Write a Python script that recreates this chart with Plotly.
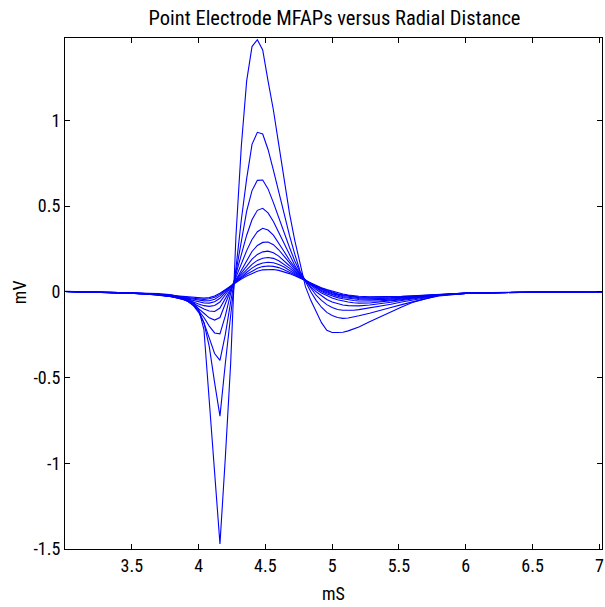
import plotly.graph_objects as go

# time samples (ms)
t_ms = [3.00, 3.20, 3.40, 3.60, 3.70, 3.80, 3.88, 3.92, 3.96, 4.00, 4.04, 4.08, 4.12, 4.16, 4.20,
        4.24, 4.28, 4.32, 4.36, 4.40, 4.44, 4.48, 4.52, 4.56, 4.60, 4.64, 4.68, 4.72, 4.76, 4.80,
        4.84, 4.88, 4.92, 4.96, 5.00, 5.04, 5.08, 5.12, 5.16, 5.20, 5.28, 5.36, 5.44, 5.52, 5.60,
        5.70, 5.80, 5.90, 6.00, 6.20, 6.40, 6.60, 6.80, 7.02]

# MFAP (mV) for increasing radial distance
mfap_r01 = [0.003, 0.0, -0.003, -0.008, -0.011, -0.018, -0.03, -0.04, -0.06, -0.10, -0.22, -0.65, -1.07, -1.47, -0.97,
            -0.42, 0.33, 0.85, 1.23, 1.43, 1.47, 1.41, 1.23, 1.06, 0.86, 0.66, 0.46, 0.30, 0.16, 0.03,
            -0.05, -0.12, -0.18, -0.225, -0.237, -0.237, -0.236, -0.228, -0.217, -0.205, -0.175, -0.145, -0.115, -0.088, -0.062,
            -0.04, -0.02, -0.012, -0.008, -0.004, -0.002, -0.001, 0.0, 0.001]
mfap_r02 = [0.002, 0.0, -0.004, -0.01, -0.014, -0.022, -0.035, -0.048, -0.07, -0.11, -0.18, -0.32, -0.53, -0.725, -0.42,
            -0.12, 0.14, 0.42, 0.66, 0.86, 0.93, 0.92, 0.83, 0.71, 0.58, 0.45, 0.33, 0.22, 0.12, 0.06,
            0.0, -0.05, -0.09, -0.12, -0.138, -0.15, -0.155, -0.153, -0.148, -0.14, -0.125, -0.11, -0.092, -0.075, -0.058,
            -0.04, -0.025, -0.016, -0.01, -0.005, -0.003, -0.001, 0.0, 0.001]
mfap_r03 = [0.002, -0.001, -0.005, -0.011, -0.016, -0.026, -0.04, -0.055, -0.08, -0.12, -0.18, -0.27, -0.36, -0.40, -0.25,
            -0.06, 0.12, 0.31, 0.47, 0.59, 0.65, 0.652, 0.60, 0.52, 0.43, 0.34, 0.26, 0.18, 0.115, 0.065,
            0.02, -0.02, -0.05, -0.075, -0.092, -0.103, -0.108, -0.11, -0.108, -0.104, -0.095, -0.085, -0.073, -0.06, -0.048,
            -0.034, -0.022, -0.015, -0.01, -0.005, -0.003, -0.001, 0.0, 0.001]
mfap_r04 = [0.002, -0.001, -0.005, -0.012, -0.017, -0.028, -0.042, -0.056, -0.078, -0.11, -0.15, -0.20, -0.24, -0.245, -0.14,
            -0.01, 0.10, 0.22, 0.33, 0.42, 0.475, 0.487, 0.46, 0.41, 0.345, 0.28, 0.215, 0.155, 0.105, 0.065,
            0.03, 0.0, -0.025, -0.045, -0.06, -0.07, -0.077, -0.081, -0.083, -0.082, -0.077, -0.07, -0.061, -0.051, -0.041,
            -0.03, -0.02, -0.014, -0.009, -0.005, -0.003, -0.001, 0.0, 0.001]
mfap_r05 = [0.002, -0.001, -0.005, -0.012, -0.018, -0.029, -0.043, -0.055, -0.074, -0.098, -0.125, -0.152, -0.165, -0.15, -0.07,
            0.01, 0.085, 0.165, 0.24, 0.305, 0.35, 0.37, 0.36, 0.33, 0.285, 0.235, 0.185, 0.14, 0.10, 0.066,
            0.037, 0.013, -0.007, -0.023, -0.036, -0.046, -0.054, -0.06, -0.064, -0.066, -0.065, -0.06, -0.054, -0.046, -0.038,
            -0.028, -0.02, -0.014, -0.009, -0.005, -0.003, -0.001, 0.0, 0.001]
mfap_r06 = [0.002, -0.001, -0.005, -0.012, -0.018, -0.029, -0.042, -0.052, -0.067, -0.084, -0.10, -0.112, -0.115, -0.095, -0.04,
            0.02, 0.075, 0.13, 0.185, 0.235, 0.27, 0.288, 0.29, 0.275, 0.245, 0.21, 0.17, 0.132, 0.098, 0.068,
            0.042, 0.02, 0.002, -0.013, -0.025, -0.034, -0.041, -0.047, -0.051, -0.054, -0.055, -0.053, -0.048, -0.042, -0.035,
            -0.027, -0.019, -0.013, -0.009, -0.005, -0.003, -0.001, 0.0, 0.001]
mfap_r07 = [0.002, -0.001, -0.005, -0.012, -0.018, -0.028, -0.039, -0.048, -0.059, -0.071, -0.081, -0.085, -0.08, -0.06, -0.02,
            0.025, 0.068, 0.11, 0.15, 0.19, 0.218, 0.233, 0.237, 0.228, 0.208, 0.182, 0.152, 0.122, 0.094, 0.068,
            0.045, 0.025, 0.008, -0.006, -0.017, -0.026, -0.033, -0.038, -0.042, -0.045, -0.047, -0.046, -0.043, -0.038, -0.032,
            -0.025, -0.018, -0.013, -0.009, -0.005, -0.003, -0.001, 0.0, 0.001]
mfap_r08 = [0.002, -0.001, -0.005, -0.011, -0.017, -0.026, -0.036, -0.043, -0.051, -0.059, -0.065, -0.066, -0.058, -0.038, -0.006,
            0.03, 0.064, 0.097, 0.13, 0.16, 0.183, 0.196, 0.20, 0.195, 0.181, 0.161, 0.138, 0.114, 0.09, 0.067,
            0.047, 0.029, 0.013, 0.0, -0.011, -0.02, -0.027, -0.032, -0.036, -0.039, -0.041, -0.041, -0.038, -0.034, -0.029,
            -0.023, -0.017, -0.012, -0.008, -0.005, -0.003, -0.001, 0.0, 0.001]
mfap_r09 = [0.002, -0.001, -0.005, -0.011, -0.016, -0.024, -0.032, -0.038, -0.044, -0.049, -0.053, -0.052, -0.043, -0.024, 0.004,
            0.033, 0.061, 0.088, 0.114, 0.138, 0.157, 0.168, 0.172, 0.169, 0.159, 0.144, 0.126, 0.106, 0.086, 0.066,
            0.048, 0.032, 0.017, 0.005, -0.006, -0.015, -0.022, -0.027, -0.031, -0.034, -0.036, -0.036, -0.034, -0.031, -0.027,
            -0.021, -0.016, -0.011, -0.008, -0.005, -0.003, -0.001, 0.0, 0.001]
mfap_r10 = [0.002, -0.001, -0.005, -0.01, -0.015, -0.022, -0.029, -0.033, -0.038, -0.042, -0.044, -0.041, -0.032, -0.015, 0.01,
            0.035, 0.058, 0.081, 0.102, 0.121, 0.137, 0.147, 0.15, 0.148, 0.141, 0.129, 0.115, 0.099, 0.082, 0.065,
            0.049, 0.034, 0.021, 0.009, -0.002, -0.011, -0.018, -0.023, -0.027, -0.03, -0.032, -0.032, -0.031, -0.028, -0.025,
            -0.02, -0.015, -0.011, -0.008, -0.005, -0.003, -0.001, 0.0, 0.001]
mfap_r11 = [0.002, -0.001, -0.005, -0.01, -0.014, -0.02, -0.026, -0.029, -0.033, -0.036, -0.037, -0.034, -0.025, -0.009, 0.013,
            0.036, 0.056, 0.075, 0.092, 0.108, 0.12, 0.128, 0.131, 0.13, 0.125, 0.117, 0.106, 0.093, 0.079, 0.064,
            0.05, 0.036, 0.024, 0.013, 0.003, -0.006, -0.013, -0.019, -0.023, -0.026, -0.029, -0.029, -0.028, -0.026, -0.023,
            -0.019, -0.014, -0.011, -0.008, -0.005, -0.003, -0.001, 0.0, 0.001]

curves = [mfap_r01, mfap_r02, mfap_r03, mfap_r04, mfap_r05, mfap_r06,
          mfap_r07, mfap_r08, mfap_r09, mfap_r10, mfap_r11]

x_ticks = [3.5, 4, 4.5, 5, 5.5, 6, 6.5, 7]
x_tick_labels = ["3.5", "4", "4.5", "5", "5.5", "6", "6.5", "7"]
y_ticks = [-1.5, -1, -0.5, 0, 0.5, 1]
y_tick_labels = ["-1.5", "-1", "-0.5", "0", "0.5", "1"]

FONT = "Roboto Condensed, Liberation Sans, Arial, sans-serif"

fig = go.Figure()
for c in curves:
    fig.add_trace(go.Scatter(x=t_ms, y=c, mode="lines",
                             line=dict(color="#0000FF", width=1.1),
                             showlegend=False, hoverinfo="skip"))

axis_common = dict(showgrid=False, zeroline=False, showline=True, linecolor="black",
                   linewidth=1, mirror="ticks", ticks="inside", ticklen=5,
                   tickcolor="black", tickwidth=1, ticklabeloverflow="allow",
                   tickfont=dict(family=FONT, size=18, color="black"))

fig.update_xaxes(range=[3.0, 7.02], tickvals=x_ticks, ticktext=x_tick_labels, **axis_common)
fig.update_yaxes(range=[-1.5, 1.48], tickvals=y_ticks, ticktext=y_tick_labels, **axis_common)

fig.update_layout(
    width=605, height=607,
    margin=dict(l=65, r=1, t=38, b=58),
    paper_bgcolor="white", plot_bgcolor="white",
    title=dict(text="Point Electrode MFAPs versus Radial Distance",
               x=(65 + 604) / 2 / 605, xanchor="center",
               y=1 - 18 / 607, yanchor="middle",
               font=dict(family=FONT, size=20.5, color="black")),
    annotations=[
        dict(text="mS", xref="paper", yref="paper", x=0.5, y=-(593 - 549) / 511,
             xanchor="center", yanchor="middle", showarrow=False,
             font=dict(family=FONT, size=18, color="black")),
        dict(text="mV", xref="paper", yref="paper", x=(19 - 65) / 539, y=(549 - 292) / 511,
             xanchor="center", yanchor="middle", showarrow=False, textangle=-90,
             font=dict(family=FONT, size=18, color="black")),
    ],
)

fig.write_html("out.html")
